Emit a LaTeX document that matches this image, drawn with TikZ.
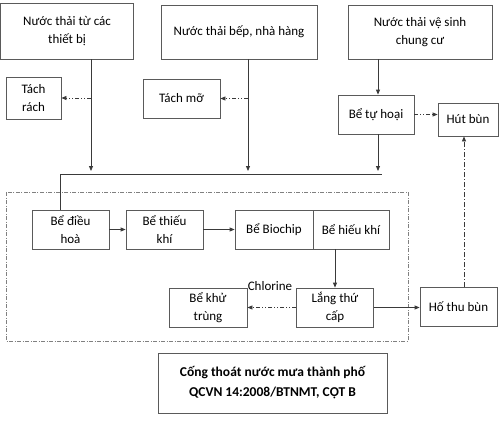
\documentclass[tikz,border=0pt]{standalone}
\usepackage{fontspec}
\setmainfont{Carlito}
\usetikzlibrary{arrows.meta,calc}
\definecolor{ln}{HTML}{3A3A3A}
\definecolor{bx}{HTML}{5A5A5A}
\tikzset{
  box/.style={draw=bx, line width=0.8pt, rectangle, inner sep=0pt, align=center,
    font=\fontsize{13}{17.5}\selectfont},
  arr/.style={draw=ln, line width=0.8pt, -{Triangle[length=5pt,width=4pt]}},
  plain/.style={draw=ln, line width=0.8pt},
  ddarr/.style={draw=ln, line width=0.8pt, dash pattern=on 4pt off 2pt on 1pt off 2pt on 1pt off 2pt, -{Triangle[length=5pt,width=4pt]}},
  darr/.style={draw=ln, line width=0.8pt, dash pattern=on 5pt off 2pt on 1pt off 2pt, -{Triangle[length=5pt,width=4pt]}},
  frame/.style={draw=gray, line width=0.7pt, dash pattern=on 4pt off 1.5pt on 1pt off 1.5pt}
}
\begin{document}
\begin{tikzpicture}[x=1pt,y=-1pt]
\useasboundingbox (0,0) rectangle (500,421);
% top sources
\node[box, minimum width=133, minimum height=56, font=\fontsize{13}{18.5}\selectfont] (src1) at (67,31) {Nước thải từ các\\thiết bị};
\node[box, minimum width=156, minimum height=54] (src2) at (239,32) {Nước thải bếp, nhà hàng};
\node[box, minimum width=144, minimum height=54, font=\fontsize{13}{18.5}\selectfont] (src3) at (420,32) {Nước thải vệ sinh\\chung cư};
% side boxes
\node[box, minimum width=55, minimum height=42] (tachrach) at (33.5,98) {Tách\\rách};
\node[box, minimum width=77, minimum height=39] (tachmo) at (181.5,98.5) {Tách mỡ};
\node[box, minimum width=76, minimum height=39] (tuhoai) at (376,114.5) {Bể tự hoại};
\node[box, minimum width=60, minimum height=33] (hutbun) at (468,119.5) {Hút bùn};
% treatment line
\node[box, minimum width=77, minimum height=39] (dieuhoa) at (70.5,229.5) {Bể điều\\hoà};
\node[box, minimum width=77, minimum height=39] (thieukhi) at (164.5,229.5) {Bể thiếu\\khí};
\node[box, minimum width=78, minimum height=39] (biochip) at (274,229.5) {Bể Biochip};
\node[box, minimum width=76, minimum height=39] (hieukhi) at (351,229.5) {Bể hiếu khí};
\node[box, minimum width=77, minimum height=39] (lang) at (335,307.5) {Lắng thứ\\cấp};
\node[box, minimum width=78, minimum height=39] (khutrung) at (208,307.5) {Bể khử\\trùng};
\node[box, minimum width=77, minimum height=39] (hothubun) at (458.5,306.5) {Hố thu bùn};
\node[box, minimum width=229, minimum height=60, font=\bfseries\fontsize{13.5}{20}\selectfont] (cong) at (272.5,383) {Cống thoát nước mưa thành phố\\QCVN 14:2008/BTNMT, CỘT B};
\node[font=\fontsize{13}{14}\selectfont, inner sep=0pt] (chlorine) at (270,286) {Chlorine};
% frame
\draw[frame] (6,192) rectangle (408,341);
% coordinates
\coordinate (v1) at (91,0);
\coordinate (v2) at (248,0);
\coordinate (v3) at (378,0);
\coordinate (ay) at (0,171);
\coordinate (jl) at (60,174);
\coordinate (jr) at (382,174);
\coordinate (sl) at (464,0);
% source lines
\draw[arr] (src1.south -| v1) -- (v1 |- ay);
\draw[arr] (src2.south -| v2) -- (v2 |- ay);
\draw[arr] (src3.south -| v3) -- (tuhoai.north -| v3);
\draw[arr] (tuhoai.south -| v3) -- (v3 |- ay);
\draw[ddarr] (tachrach.east -| v1) -- (tachrach.east);
\draw[ddarr] (tachmo.east -| v2) -- (tachmo.east);
\draw[ddarr] (tuhoai.east) -- (hutbun.west |- tuhoai.east);
% collector
\draw[plain] (dieuhoa.north -| jl) -- (jl) -- (jr);
% process arrows
\draw[arr] (dieuhoa.east) -- (thieukhi.west);
\draw[arr] (thieukhi.east) -- (biochip.west);
\draw[arr] (hieukhi.south -| lang.north) -- (lang.north);
\draw[ddarr] (lang.west) -- (khutrung.east);
\draw[arr] (lang.east) -- (hothubun.west |- lang.east);
\draw[darr] (hothubun.north -| sl) -- (hutbun.south -| sl);
\end{tikzpicture}
\end{document}
